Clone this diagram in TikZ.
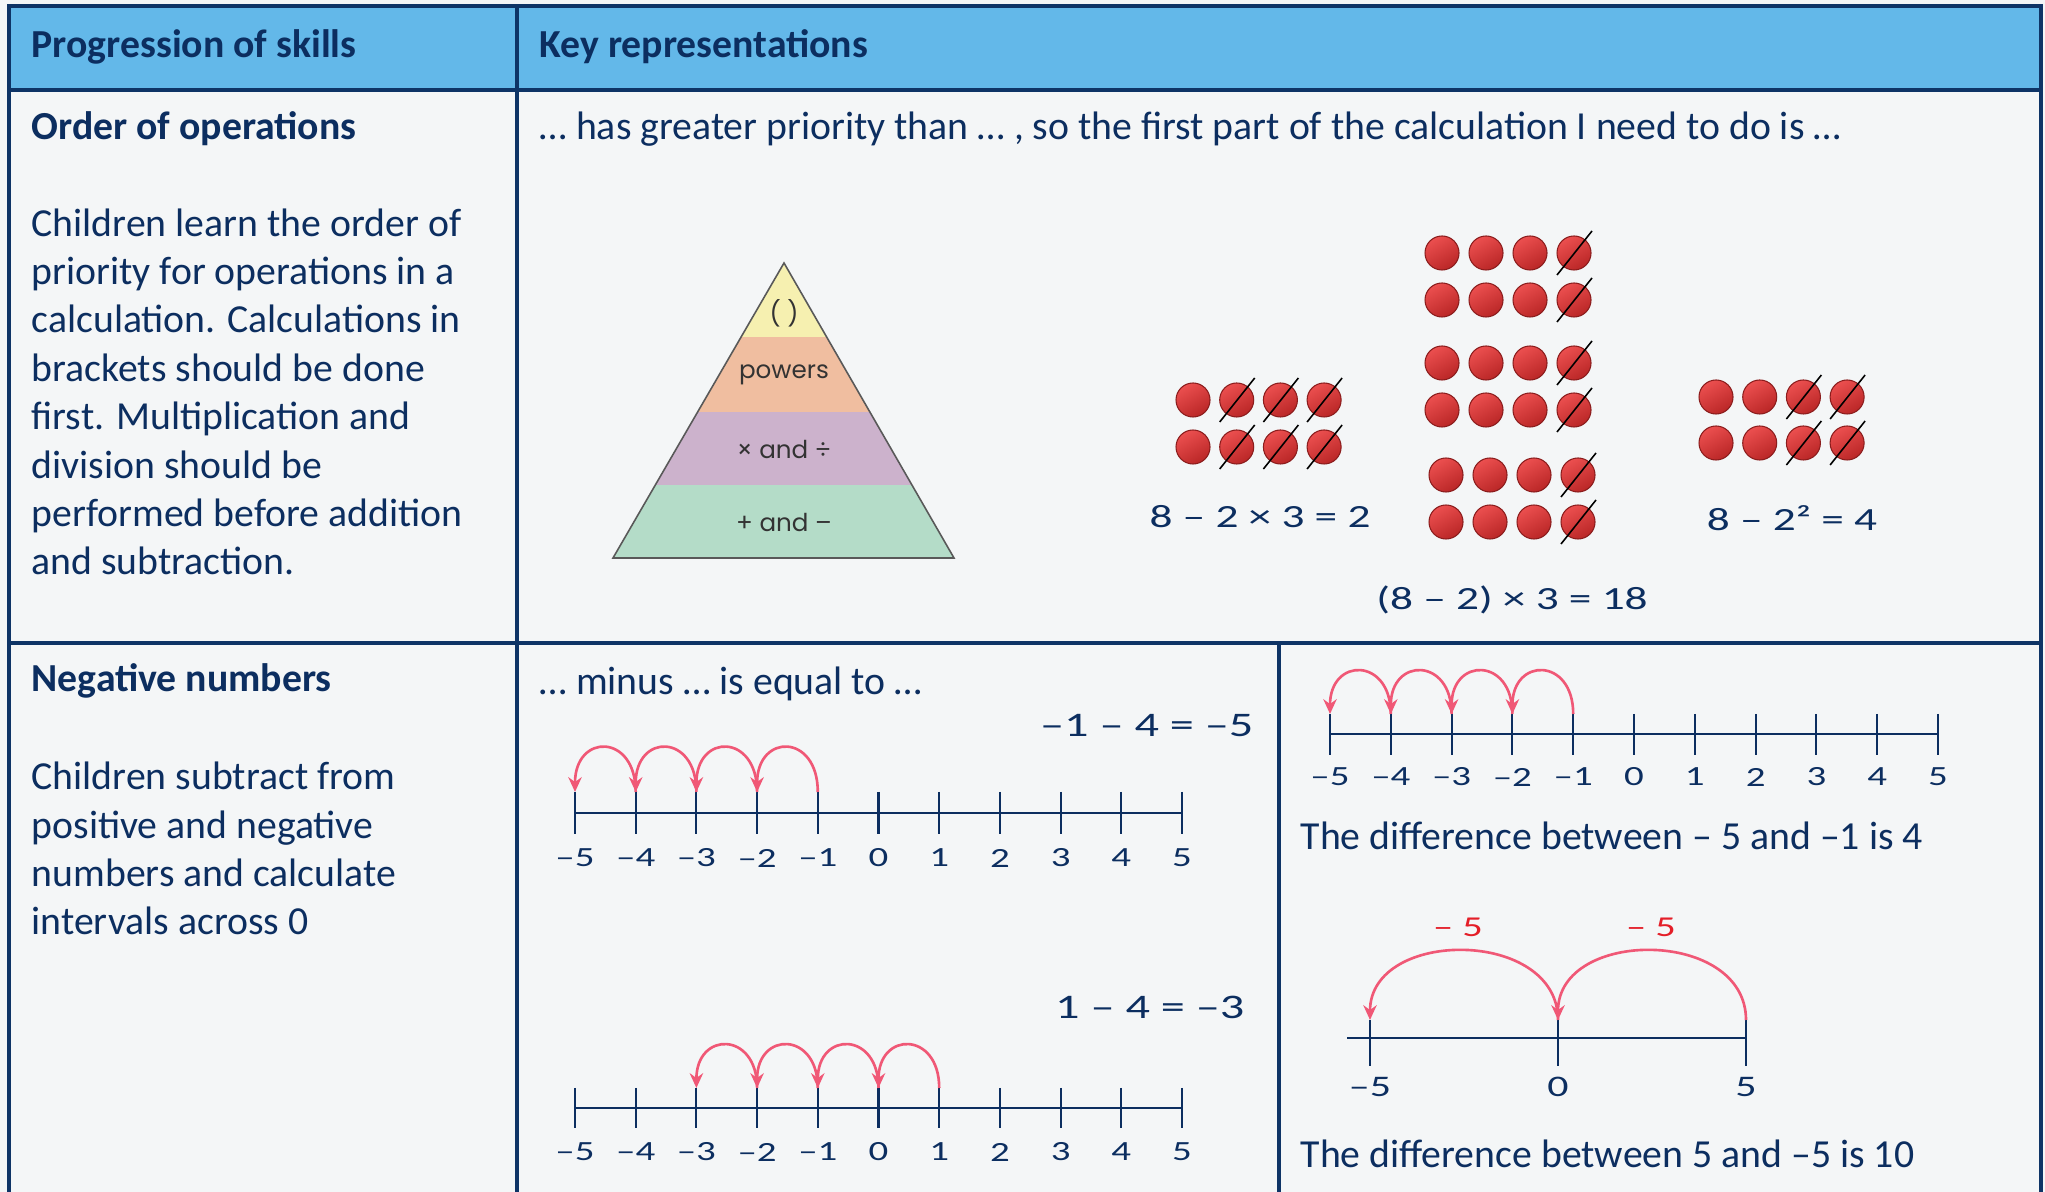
\documentclass[tikz,border=0pt]{standalone}
\usepackage{fontspec}
\setmainfont{Carlito}
\newfontfamily\widefont[FakeStretch=1.4]{Carlito}
\newfontfamily\pyrfont{Poppins}
\usetikzlibrary{arrows.meta,positioning}

\definecolor{navy}{RGB}{12,46,96}
\definecolor{rulecol}{RGB}{14,52,102}
\definecolor{headblue}{RGB}{99,184,233}
\definecolor{paper}{RGB}{244,246,247}
\definecolor{hoppink}{RGB}{240,88,118}
\definecolor{hopred}{RGB}{228,30,40}
\definecolor{counterred}{RGB}{232,48,48}
\definecolor{pyrA}{RGB}{246,240,176}
\definecolor{pyrB}{RGB}{240,190,160}
\definecolor{pyrC}{RGB}{204,178,204}
\definecolor{pyrD}{RGB}{180,220,200}

\tikzset{
  grid line/.style={rulecol, line width=1.1pt},
  txt/.style={anchor=base west, inner sep=0pt, text=navy, font=\fontsize{11.3}{13.77}\selectfont},
  head/.style={txt, font=\bfseries\fontsize{11.3}{13.77}\selectfont},
  para/.style={txt, align=left},
  eqn/.style={anchor=base, inner sep=0pt, text=navy, font=\widefont\fontsize{9.2}{11}\selectfont},
  bigeqn/.style={eqn, anchor=base east, font=\widefont\fontsize{9.8}{12}\selectfont},
  numlab/.style={inner sep=0pt, text=navy, font=\widefont\fontsize{7.9}{9}\selectfont},
  numaxis/.style={navy, line width=0.75pt},
  tickmark/.style={navy, line width=0.6pt},
  hop/.style={hoppink, line width=0.75pt, -{Stealth[length=4.2pt, width=3.8pt]}},
  counter/.style={circle, minimum size=0.34cm, inner sep=0pt, top color=counterred!85!white, bottom color=counterred!80!black, shading angle=30, draw=counterred!60!black, line width=0.3pt},
  slash/.style={black, line width=0.45pt},
  pyrtext/.style={inner sep=0pt, text=black!80, font=\pyrfont\fontsize{7}{8}\selectfont},
  pyredge/.style={black!65, line width=0.45pt, line join=miter},
}

\begin{document}
\begin{tikzpicture}[x=0.01cm, y=-0.01cm]
\useasboundingbox (0,0) rectangle (2045,1192);
\fill[paper] (0,0) rectangle (2045,1192);

% table
\fill[headblue] (9,6) rectangle (2041,90);
\draw[grid line] (9,1200) -- (9,6) -- (2041,6) -- (2041,1200);
\draw[grid line] (9,90) -- (2041,90);
\draw[grid line] (9,643) -- (2041,643);
\draw[grid line] (517,6) -- (517,1200);
\draw[grid line] (1279,643) -- (1279,1200);

\node[head] (hskills) at (31,58) {Progression of skills};
\node[head] (hkeys) at (539,58) {Key representations};

% order of operations (base of a multi-line node = its last line)
\node[head] (order) at (31,140) {Order of operations};
\node[txt] (prio) at (539,140) {… has greater priority than … , so the first part of the calculation I need to do is …};
\node[para] (orderdesc) at (31,575) {Children learn the order of\\priority for operations in a\\calculation. Calculations in\\brackets should be done\\first. Multiplication and\\division should be\\performed before addition\\and subtraction.};

% pyramid
\coordinate (apex) at (784,263);
\coordinate (baseL) at (613,558);
\coordinate (baseR) at (954,558);
\begin{scope}
  \clip (apex) -- (baseR) -- (baseL) -- cycle;
  \fill[pyrA] (600,250) rectangle (970,337);
  \fill[pyrB] (600,337) rectangle (970,412);
  \fill[pyrC] (600,412) rectangle (970,485);
  \fill[pyrD] (600,485) rectangle (970,560);
\end{scope}
\draw[pyredge] (apex) -- (baseR) -- (baseL) -- cycle;
\draw[pyredge, line width=0.8pt] (baseL) -- (baseR);
\node[pyrtext] (brackets) at (784,313) {( )};
\node[pyrtext] (powers) at (784,375) {powers};
\node[pyrtext] (muldiv) at (784,450) {× and ÷};
\node[pyrtext] (addsub) at (784,523) {+ and –};

% counters
\foreach \r/\y in {1/400,2/447}
  \foreach \c in {1,...,4}
    \node[counter] (L-\r-\c) at ({1193+43.7*(\c-1)},\y) {};
\foreach \r/\y/\dx in {1/253/0,2/300/0,3/363/0,4/410/0,5/475/4,6/522/4}
  \foreach \c in {1,...,4}
    \node[counter] (M-\r-\c) at ({1442+\dx+44*(\c-1)},\y) {};
\foreach \r/\y in {1/397,2/443}
  \foreach \c in {1,...,4}
    \node[counter] (R-\r-\c) at ({1716+43.7*(\c-1)},\y) {};

\foreach \r in {1,2}
  \foreach \c in {2,3,4}
    \draw[slash] ([shift={(-17,22)}]L-\r-\c.center) -- ([shift={(18,-22)}]L-\r-\c.center);
\foreach \r in {1,...,6}
  \draw[slash] ([shift={(-17,22)}]M-\r-4.center) -- ([shift={(18,-22)}]M-\r-4.center);
\foreach \r in {1,2}
  \foreach \c in {3,4}
    \draw[slash] ([shift={(-17,22)}]R-\r-\c.center) -- ([shift={(18,-22)}]R-\r-\c.center);

\node[eqn] (eqleft) at (1260,528) {8 – 2 × 3 = 2};
\node[eqn] (eqmid) at (1512,610) {(8 – 2) × 3 = 18};
\node[eqn] (eqright) at (1792,531) {8 – 2² = 4};

% negative numbers
\node[head] (negnum) at (31,692) {Negative numbers};
\node[para] (negdesc) at (31,935) {Children subtract from\\positive and negative\\numbers and calculate\\intervals across 0};
\node[txt] (minus) at (539,695) {… minus … is equal to …};

% number line -1 - 4
\node[bigeqn] (eqA) at (1254,737) {–1 – 4 = –5};
\foreach \k in {-5,...,5} {
  \coordinate (A\k) at ({575+60.7*(\k+5)},792);
  \draw[tickmark] (A\k) -- ++(0,42);
  \node[numlab] (Alab\k) at ({575+60.7*(\k+5)},858) {\ifnum\k<0 –\the\numexpr-\k\relax\else\k\fi};
}
\draw[numaxis] ([shift={(0,21)}]A-5) -- ([shift={(0,21)}]A5);
\foreach \k in {-1,-2,-3,-4} {
  \pgfmathtruncatemacro\j{\k-1}
  \draw[hop] (A\k) .. controls +(0,-59) and +(0,-59) .. (A\j);
}

% number line 1 - 4
\node[bigeqn] (eqB) at (1245,1019) {1 – 4 = –3};
\foreach \k in {-5,...,5} {
  \coordinate (B\k) at ({575+60.7*(\k+5)},1088);
  \draw[tickmark] (B\k) -- ++(0,40);
  \node[numlab] (Blab\k) at ({575+60.7*(\k+5)},1152) {\ifnum\k<0 –\the\numexpr-\k\relax\else\k\fi};
}
\draw[numaxis] ([shift={(0,20)}]B-5) -- ([shift={(0,20)}]B5);
\foreach \k in {1,0,-1,-2} {
  \pgfmathtruncatemacro\j{\k-1}
  \draw[hop] (B\k) .. controls +(0,-57) and +(0,-57) .. (B\j);
}

% difference -5 and -1
\foreach \k in {-5,...,5} {
  \coordinate (C\k) at ({1330+60.8*(\k+5)},714);
  \draw[tickmark] (C\k) -- ++(0,41);
  \node[numlab] (Clab\k) at ({1330+60.8*(\k+5)},777) {\ifnum\k<0 –\the\numexpr-\k\relax\else\k\fi};
}
\draw[numaxis] ([shift={(0,20)}]C-5) -- ([shift={(0,20)}]C5);
\foreach \k in {-1,-2,-3,-4} {
  \pgfmathtruncatemacro\j{\k-1}
  \draw[hop] (C\k) .. controls +(0,-57) and +(0,-57) .. (C\j);
}
\node[txt] (diffA) at (1300,850) {The difference between – 5 and –1 is 4};

% difference 5 and -5
\coordinate (Dstart) at (1347,1038);
\coordinate (Dm) at (1370,1020);
\coordinate (Dz) at (1558,1020);
\coordinate (Dp) at (1746,1020);
\draw[numaxis] (Dstart) -- (Dstart -| Dp);
\foreach \p in {Dm,Dz,Dp}
  \draw[tickmark] (\p) -- ++(0,46);
\node[numlab, font=\widefont\fontsize{8.5}{10}\selectfont] (Dlabm) at (1370,1087) {–5};
\node[numlab, font=\widefont\fontsize{8.5}{10}\selectfont] (Dlabz) at (1558,1087) {0};
\node[numlab, font=\widefont\fontsize{8.5}{10}\selectfont] (Dlabp) at (1746,1087) {5};
\draw[hop] (Dp) .. controls +(0,-92) and +(0,-92) .. (Dz);
\draw[hop] (Dz) .. controls +(0,-92) and +(0,-92) .. (Dm);
\node[numlab, text=hopred, font=\widefont\fontsize{8.2}{10}\selectfont] (jumpL) at (1458,927) {– 5};
\node[numlab, text=hopred, font=\widefont\fontsize{8.2}{10}\selectfont] (jumpR) at (1651,927) {– 5};
\node[txt] (diffB) at (1300,1167) {The difference between 5 and –5 is 10};
\end{tikzpicture}
\end{document}
